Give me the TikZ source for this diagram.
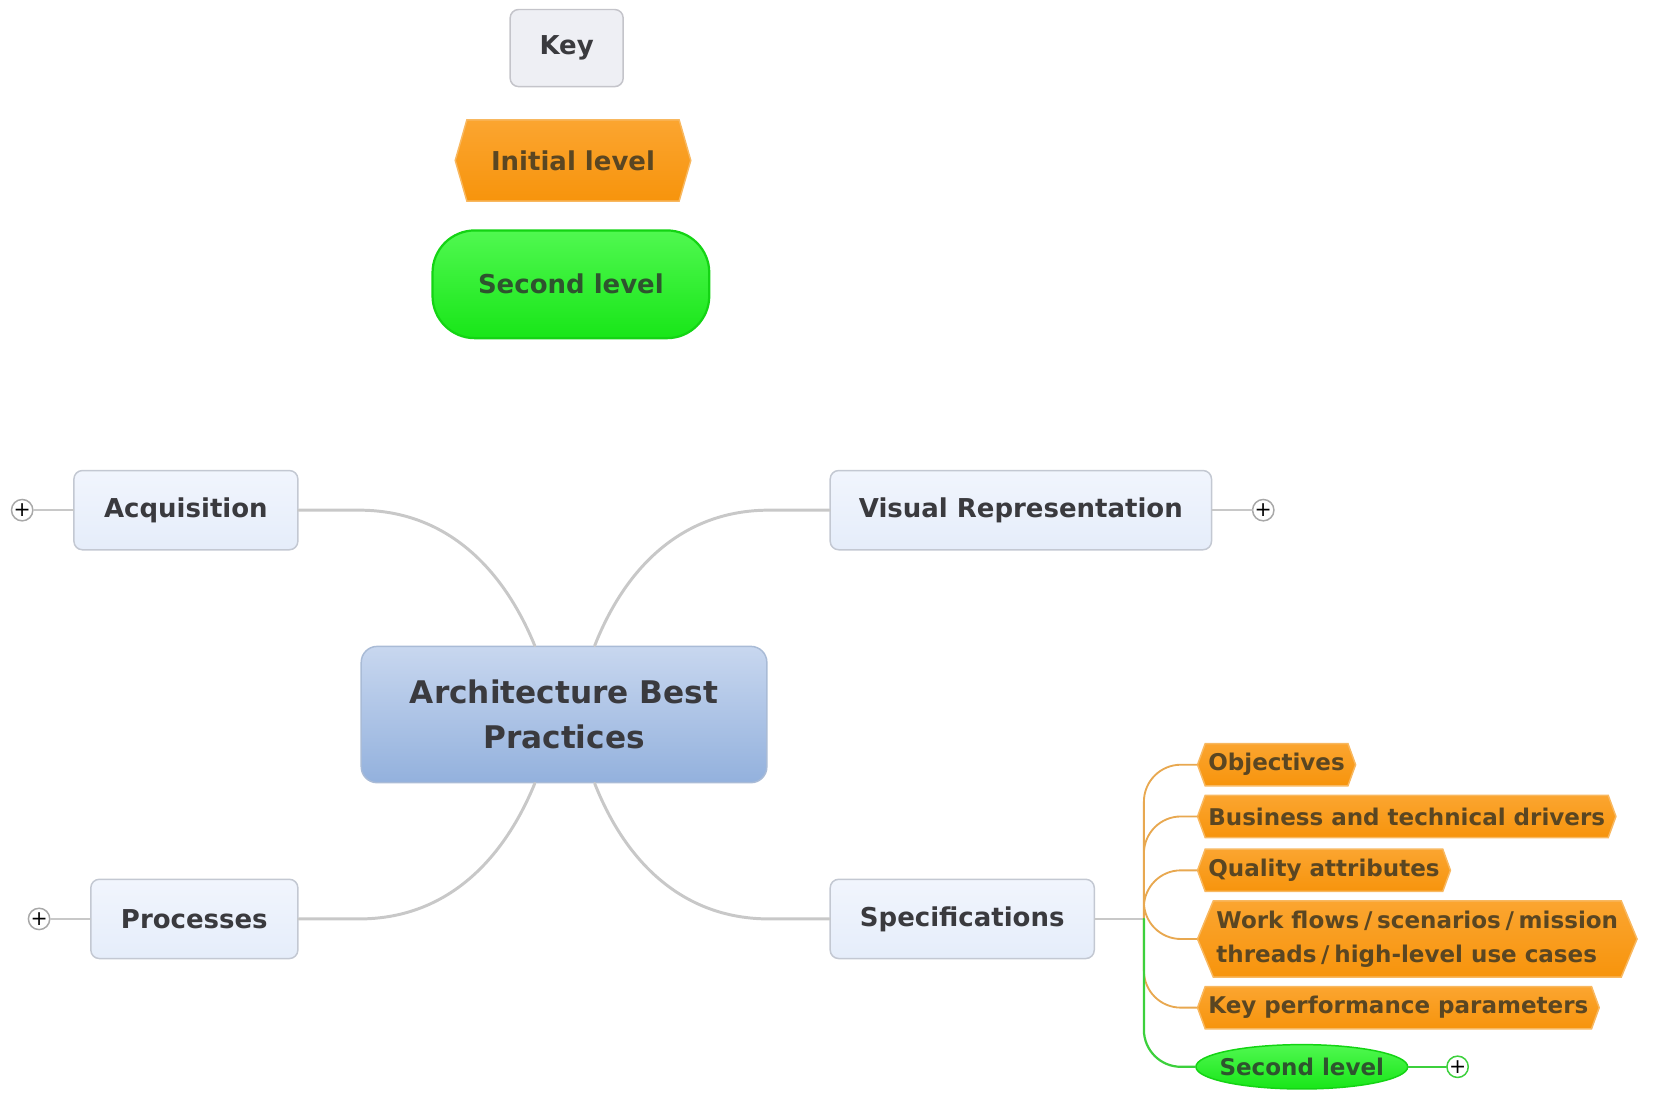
\documentclass[tikz,border=0pt]{standalone}
\usepackage{fontspec}
\setmainfont{DejaVu Sans}
\usepackage{tikz}
\usetikzlibrary{shapes.symbols,shapes.geometric,positioning}

\definecolor{nodetext}{HTML}{3A3A3E}
\definecolor{tagtext}{HTML}{5A4622}
\definecolor{pilltext}{HTML}{2E542E}
\definecolor{boxtop}{HTML}{F1F5FD}
\definecolor{boxbot}{HTML}{E5EDFA}
\definecolor{boxline}{HTML}{C3C8D2}
\definecolor{keyfill}{HTML}{EEEFF4}
\definecolor{keyline}{HTML}{C4C4CA}
\definecolor{coretop}{HTML}{C8D7EF}
\definecolor{corebot}{HTML}{93B1DD}
\definecolor{coreline}{HTML}{A9BBD6}
\definecolor{tagtop}{HTML}{FBA530}
\definecolor{tagbot}{HTML}{F7940C}
\definecolor{tagline}{HTML}{F8B860}
\definecolor{pilltop}{HTML}{50F850}
\definecolor{pillbot}{HTML}{18E618}
\definecolor{pillline}{HTML}{14D414}
\definecolor{branch}{HTML}{C8C8C8}
\definecolor{plusline}{HTML}{A8A8A8}
\definecolor{tagwire}{HTML}{E8A850}
\definecolor{pillwire}{HTML}{3CD03C}

\newcommand{\slashsp}{\kern0.45mm/\kern0.45mm}

\begin{document}
\begin{tikzpicture}[x=1mm,y=-1mm,line cap=round,
                    font=\bfseries\fontsize{7}{9}\selectfont]

  \tikzstyle{topic}=[rectangle,rounded corners=0.8mm,draw=boxline,
                     top color=boxtop,bottom color=boxbot,text=nodetext,
                     minimum height=7.5mm]
  \tikzstyle{core}=[rectangle,rounded corners=1.5mm,draw=coreline,
                    top color=coretop,bottom color=corebot,text=nodetext,
                    minimum width=38.4mm,minimum height=12.9mm,align=center,
                    font=\bfseries\fontsize{8.4}{12}\selectfont]
  \tikzstyle{keybox}=[rectangle,rounded corners=0.8mm,draw=keyline,
                      fill=keyfill,text=nodetext,
                      minimum width=10.7mm,minimum height=7.3mm]
  \tikzstyle{levelone}=[signal,signal to=east and west,draw=tagline,
                        top color=tagtop,bottom color=tagbot,text=tagtext]
  \tikzstyle{leveltwo}=[draw=pillline,top color=pilltop,
                        bottom color=pillbot,text=pilltext]
  \tikzstyle{tag}=[levelone,signal pointer angle=140,anchor=west,
                   minimum height=4mm,inner xsep=0.3mm,inner ysep=0.2mm,
                   font=\bfseries\fontsize{6.2}{9.1}\selectfont]
  \tikzstyle{expander}=[circle,draw=plusline,line width=0.4pt,fill=white,
                        inner sep=0pt,minimum size=1.8mm,text=black,
                        font=\fontsize{5.5}{5.5}\selectfont]
  \tikzstyle{branch}=[draw=branch,line width=0.8pt]
  \tikzstyle{twig}=[draw=branch,line width=0.5pt]

  \useasboundingbox (0,0) rectangle (156.5,103.4);

  % key
  \node[keybox] (key) at (53.65,4.55) {Key};
  \node[levelone,signal pointer angle=148,minimum width=22.3mm,
        minimum height=7.7mm,below=3mm of key,xshift=0.6mm] (init) {Initial level};
  \node[leveltwo,rounded corners=4mm,minimum width=26.2mm,line width=0.6pt,
        minimum height=10.2mm,below=2.6mm of init,xshift=-0.2mm] (second) {Second level};

  % map
  \node[core] (abp) at (53.4,67.65) {Architecture Best\\Practices};
  \node[topic,minimum width=21.2mm] (acq)  at (17.6,48.3)  {Acquisition};
  \node[topic,minimum width=36.1mm] (vis)  at (96.65,48.3) {Visual Representation};
  \node[topic,minimum width=19.6mm] (proc) at (18.4,87)    {Processes};
  \node[topic,minimum width=25mm]   (spec) at (91.1,87)    {Specifications};

  \node[expander] (acqplus)  at (2.1,48.3)  {+};
  \node[expander] (visplus)  at (119.6,48.3) {+};
  \node[expander] (procplus) at (3.7,87)    {+};

  \path[branch] (abp.113.5) .. controls (47.5,53.5) and (42,48.3) .. (34,48.3)
                -- (acq.east);
  \path[branch] (abp.66.5) .. controls (59.3,53.5) and (64.8,48.3) .. (72.8,48.3)
                -- (vis.west);
  \path[branch] (abp.-113.5) .. controls (47.5,81.8) and (42,87) .. (34,87)
                -- (proc.east);
  \path[branch] (abp.-66.5) .. controls (59.3,81.8) and (64.8,87) .. (72.8,87)
                -- (spec.west);

  \path[twig] (acqplus) -- (acq)
              (vis) -- (visplus)
              (procplus) -- (proc);

  % specifications
  \coordinate (fork) at (108.3,87);
  \node[tag] (obj) at (113.3,72.4) {Objectives};
  \node[tag] (drv) at (113.3,77.3) {Business and technical drivers};
  \node[tag] (qa)  at (113.3,82.4) {Quality attributes};
  \node[tag,align=left,minimum height=7.2mm,signal pointer angle=135]
        (wf) at (113.3,88.9) {Work flows\slashsp scenarios\slashsp mission\\threads\slashsp high-level use cases};
  \node[tag] (kpp) at (113.3,95.4) {Key performance parameters};
  \node[leveltwo,ellipse,inner xsep=-0.7mm,inner ysep=0pt,minimum height=4.2mm,
        font=\bfseries\fontsize{6.2}{8}\selectfont] (sl) at (123.25,101) {Second level};
  \node[expander,draw=pillwire] (slplus) at (138,101) {+};

  \path[draw=branch,line width=0.4pt] (spec) -- (fork);
  \path[draw=tagwire,line width=0.5pt,rounded corners=3.5mm]
        (fork) |- (obj) (fork) |- (drv) (fork) |- (qa)
        (fork) |- (wf) (fork) |- (kpp);
  \path[draw=pillwire,line width=0.6pt,rounded corners=3.5mm]
        (fork) |- (sl);
  \path[draw=pillwire,line width=0.6pt] (sl) -- (slplus);
\end{tikzpicture}
\end{document}
